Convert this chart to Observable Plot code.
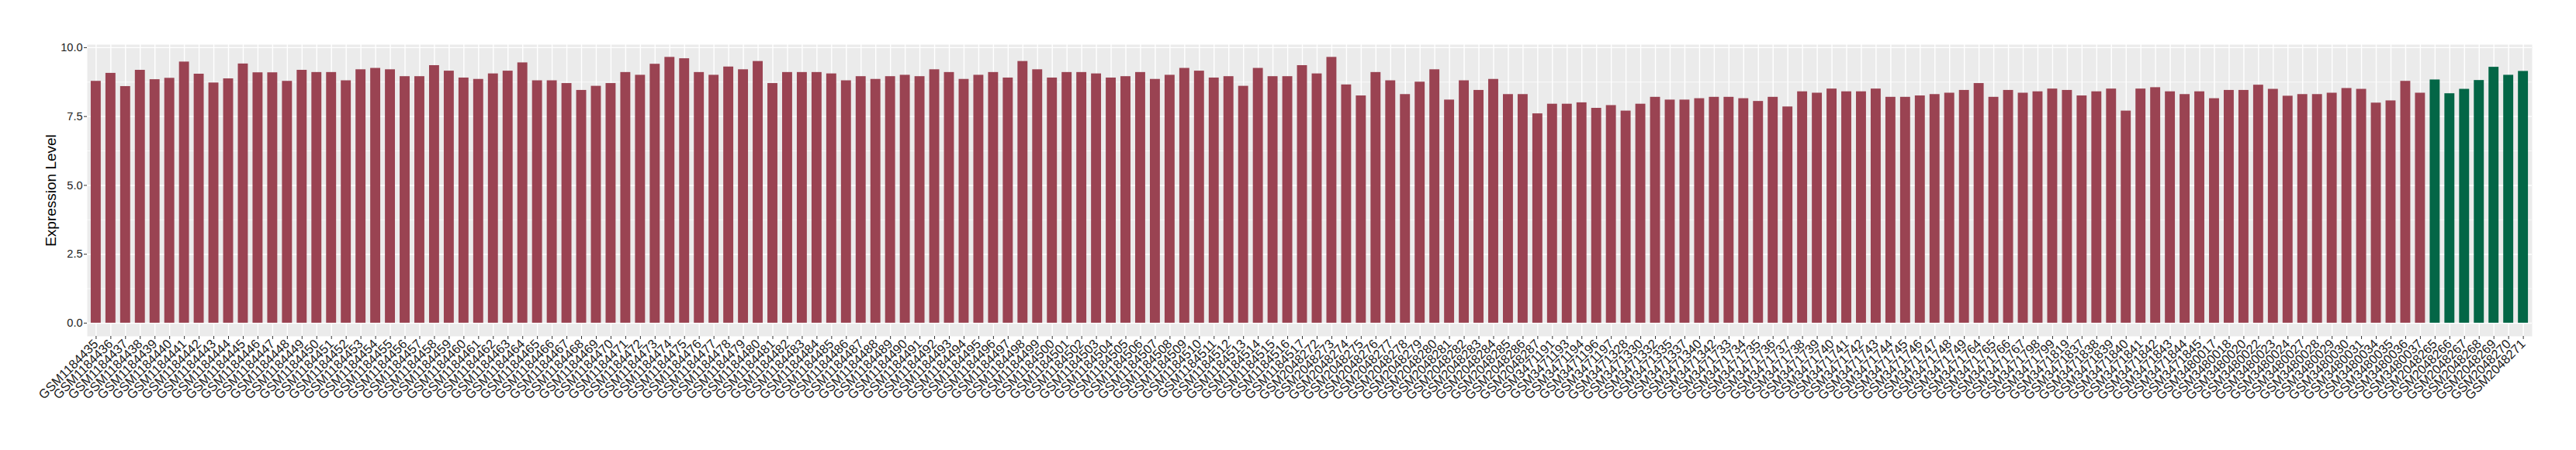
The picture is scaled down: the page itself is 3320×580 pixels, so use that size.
<!DOCTYPE html>
<html><head><meta charset="utf-8">
<script src="https://cdn.jsdelivr.net/npm/d3@7"></script>
<script src="https://cdn.jsdelivr.net/npm/@observablehq/plot@0.6"></script>
<style>html,body{margin:0;padding:0;background:#fff}</style>
</head><body><div id="chart"></div>
<script>
const samples = [
"GSM1184435","GSM1184436","GSM1184437","GSM1184438","GSM1184439","GSM1184440","GSM1184441","GSM1184442","GSM1184443","GSM1184444",
"GSM1184445","GSM1184446","GSM1184447","GSM1184448","GSM1184449","GSM1184450","GSM1184451","GSM1184452","GSM1184453","GSM1184454",
"GSM1184455","GSM1184456","GSM1184457","GSM1184458","GSM1184459","GSM1184460","GSM1184461","GSM1184462","GSM1184463","GSM1184464",
"GSM1184465","GSM1184466","GSM1184467","GSM1184468","GSM1184469","GSM1184470","GSM1184471","GSM1184472","GSM1184473","GSM1184474",
"GSM1184475","GSM1184476","GSM1184477","GSM1184478","GSM1184479","GSM1184480","GSM1184481","GSM1184482","GSM1184483","GSM1184484",
"GSM1184485","GSM1184486","GSM1184487","GSM1184488","GSM1184489","GSM1184490","GSM1184491","GSM1184492","GSM1184493","GSM1184494",
"GSM1184495","GSM1184496","GSM1184497","GSM1184498","GSM1184499","GSM1184500","GSM1184501","GSM1184502","GSM1184503","GSM1184504",
"GSM1184505","GSM1184506","GSM1184507","GSM1184508","GSM1184509","GSM1184510","GSM1184511","GSM1184512","GSM1184513","GSM1184514",
"GSM1184515","GSM1184516","GSM1184517",
"GSM2048272","GSM2048273","GSM2048274","GSM2048275","GSM2048276","GSM2048277","GSM2048278","GSM2048279","GSM2048280","GSM2048281",
"GSM2048282","GSM2048283","GSM2048284","GSM2048285","GSM2048286","GSM2048287",
"GSM3471191","GSM3471193","GSM3471194","GSM3471196","GSM3471197","GSM3471328","GSM3471330","GSM3471332","GSM3471335","GSM3471337",
"GSM3471340","GSM3471342","GSM3471733","GSM3471734","GSM3471735","GSM3471736","GSM3471737","GSM3471738","GSM3471739","GSM3471740",
"GSM3471741","GSM3471742","GSM3471743","GSM3471744","GSM3471745","GSM3471746","GSM3471747","GSM3471748","GSM3471749","GSM3471764",
"GSM3471765","GSM3471766","GSM3471767","GSM3471798","GSM3471799","GSM3471819","GSM3471837","GSM3471838","GSM3471839","GSM3471840",
"GSM3471841","GSM3471842","GSM3471843","GSM3471844","GSM3471845",
"GSM3480017","GSM3480018","GSM3480020","GSM3480022","GSM3480023","GSM3480024","GSM3480027","GSM3480028","GSM3480029","GSM3480030",
"GSM3480031","GSM3480034","GSM3480035","GSM3480036","GSM3480037",
"GSM2048265","GSM2048266","GSM2048267","GSM2048268","GSM2048269","GSM2048270","GSM2048271"
];
const values = [
8.78,9.07,8.59,9.18,8.84,8.89,9.48,9.04,8.72,8.87,9.41,9.09,9.09,8.78,9.18,
9.10,9.10,8.80,9.20,9.25,9.20,8.95,8.95,9.35,9.15,8.90,8.85,9.05,9.15,9.45,8.80,8.80,
8.70,8.45,8.60,8.70,
9.10,9.00,9.40,9.65,9.60,
9.10,9.00,9.30,9.20,9.50,8.70,9.10,9.10,9.10,9.05,8.80,8.95,8.85,8.95,9.00,
8.95,9.20,9.10,8.85,9.00,9.10,8.90,9.50,9.20,8.90,9.10,9.10,9.05,8.90,8.95,
9.10,8.85,9.00,9.25,9.15,8.90,8.95,8.60,9.25,8.95,8.95,9.35,9.05,9.65,8.65,
8.25,9.10,8.80,8.30,8.75,9.20,8.10,8.80,8.45,8.85,8.30,8.30,
7.60,
7.95,7.95,8.00,7.80,7.90,7.70,7.95,8.20,8.10,8.10,8.15,8.20,8.20,8.15,8.05,8.20,7.85,
8.40,8.35,8.50,8.40,8.40,8.50,8.20,8.20,8.25,8.30,
8.35,8.45,8.70,
8.20,8.45,8.35,8.40,8.50,8.45,8.25,8.40,8.50,
7.70,
8.50,8.55,8.40,8.30,8.40,8.15,8.45,8.45,
8.64,8.49,8.24,8.30,8.30,8.35,8.52,8.49,7.99,8.07,8.78,8.35,
8.83,8.33,8.49,8.81,9.29,9.00,9.14
];
const groupNames = ["Group 1","Group 2"];
const groupColors = ["#9A4352","#036646"];
const groupSizes = [159, 7];
const yMajorTicks = [0, 2.5, 5, 7.5, 10];
const yMinorTicks = [1.25, 3.75, 6.25, 8.75];
const yTitle = "Expression Level";

const groups = groupSizes.flatMap((n, g) => Array(n).fill(groupNames[g]));
const data = samples.map((s, i) => ({sample: s, value: values[i], group: groups[i]}));

const chart = Plot.plot({
  width: 3320, height: 580,
  marginLeft: 112, marginRight: 57, marginTop: 57, marginBottom: 147,
  style: {fontFamily: "'Liberation Sans', Arial, Helvetica, sans-serif", background: "white", color: "#1a1a1a", overflow: "visible"},
  x: {type: "band", domain: samples, paddingInner: 0.32, paddingOuter: 0.26, label: null},
  y: {domain: [-0.48, 10.11], label: null},
  color: {domain: groupNames, range: groupColors},
  marks: [
    Plot.frame({fill: "#EBEBEB", stroke: null}),
    Plot.ruleY(yMinorTicks, {stroke: "white", strokeWidth: 0.7}),
    Plot.ruleY(yMajorTicks, {stroke: "white", strokeWidth: 1.4}),
    Plot.gridX({stroke: "white", strokeOpacity: 1, strokeWidth: 1.4}),
    Plot.barY(data, {x: "sample", y: "value", fill: "group"}),
    Plot.axisY(yMajorTicks, {tickFormat: d => d.toFixed(1), tickSize: 4, tickPadding: 2, fontSize: 14.5, stroke: "#333", label: null}),
    Plot.axisX({tickRotate: -45, tickSize: 4, tickPadding: 3, fontSize: 16.5, stroke: "#333", label: null}),
    Plot.text([yTitle], {text: d => d, frameAnchor: "left", textAnchor: "middle", lineAnchor: "middle", dx: -47, rotate: -90, fontSize: 19, fill: "black"})
  ]
});
document.getElementById("chart").appendChild(chart);
</script>
</body></html>
